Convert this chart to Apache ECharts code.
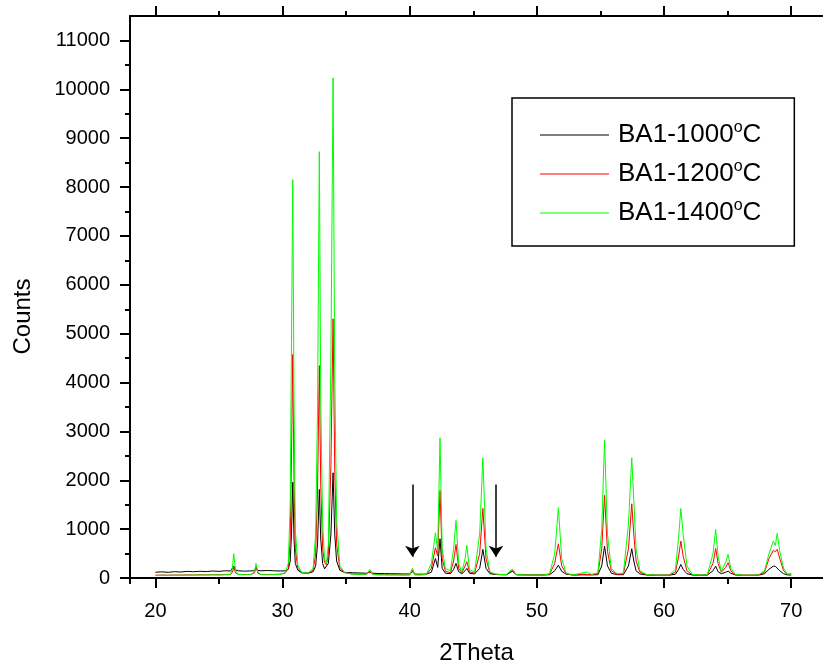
<!DOCTYPE html>
<html>
<head>
<meta charset="utf-8">
<script src="https://cdn.jsdelivr.net/npm/echarts@6/dist/echarts.min.js"></script>
<style>html,body{margin:0;padding:0;background:#fff;}#chart{width:823px;height:670px;}</style>
</head>
<body>
<div id="chart"></div>
<script>
const theta = [20.0,20.5,21.0,21.5,22.0,22.5,23.0,23.5,24.0,24.5,25.0,25.5,25.9,26.05,26.16,26.3,26.5,27.0,27.5,27.8,27.91,28.05,28.3,28.8,29.3,29.8,30.2,30.45,30.6,30.7,30.8,30.9,31.0,31.2,31.5,32.0,32.4,32.6,32.75,32.89,33.0,33.15,33.3,33.45,33.6,33.8,33.97,34.1,34.25,34.5,34.9,35.5,36.0,36.6,36.86,37.1,37.5,38.0,38.5,39.0,39.5,40.0,40.21,40.4,40.8,41.3,41.7,42.02,42.2,42.38,42.55,42.8,43.2,43.45,43.64,43.85,44.1,44.35,44.49,44.7,45.1,45.5,45.75,46.0,46.3,46.7,46.85,47.1,47.6,48.07,48.4,49.0,49.5,50.0,50.5,51.0,51.4,51.69,51.95,52.3,52.8,53.3,53.6,53.95,54.3,54.8,55.1,55.32,55.55,55.85,56.3,56.8,57.2,57.46,57.62,57.8,58.1,58.6,59.2,59.8,60.4,60.9,61.15,61.32,61.5,61.8,62.2,62.8,63.4,63.85,64.06,64.25,64.5,64.85,65.04,65.25,65.6,66.2,66.8,67.4,67.9,68.25,68.59,68.75,68.9,69.1,69.4,69.7,70.0];
const ba1000 = [120,128,118,132,125,138,130,140,134,145,138,150,146,175,245,170,150,142,148,150,212,155,150,156,150,145,150,180,350,900,1963,800,300,160,110,100,130,250,700,1814,800,300,190,200,300,900,2155,900,350,160,115,110,105,100,123,100,95,92,90,88,85,84,130,82,80,82,120,400,219,805,200,100,90,180,300,130,90,150,198,100,85,200,587,200,90,75,80,72,70,140,70,68,66,66,65,70,150,266,140,80,65,65,68,66,66,70,250,654,250,100,70,70,250,601,350,150,85,65,60,60,60,80,180,280,180,90,65,60,62,150,245,130,90,120,143,100,65,58,58,60,90,180,245,240,220,150,90,65,62];
const ba1200 = [60,62,60,64,62,66,64,68,66,70,68,72,74,120,212,110,78,72,76,110,245,100,74,72,75,80,100,200,800,2500,4575,2000,600,200,110,100,160,500,1800,4350,1900,600,320,270,500,2300,5305,2200,700,200,110,85,80,82,140,80,70,70,68,68,66,68,170,70,68,72,200,621,450,1793,400,140,110,350,689,200,110,250,335,130,100,500,1425,400,110,80,100,72,70,160,68,65,64,64,63,80,300,703,250,90,65,70,80,75,70,90,600,1691,550,150,80,85,600,1521,900,350,120,70,62,60,62,120,450,757,450,150,70,62,65,300,607,300,120,220,315,150,70,60,60,62,120,400,567,540,587,400,150,75,90];
const ba1400 = [55,58,56,60,58,60,62,62,64,66,64,68,70,200,499,160,75,70,72,130,300,120,70,68,70,75,110,300,1500,4800,8153,3600,1000,260,120,100,200,900,3500,8724,3700,1100,400,290,700,4500,10233,4200,1200,250,110,80,75,80,178,75,68,66,65,66,64,66,200,68,66,75,300,928,553,2871,600,200,150,600,1180,300,120,400,669,180,120,900,2462,600,130,85,115,75,72,185,70,66,65,64,64,90,500,1440,400,100,66,90,110,123,75,110,1000,2822,900,200,90,100,1100,2462,1600,600,150,75,62,60,62,180,850,1425,900,250,80,62,70,500,996,450,130,330,485,200,75,60,60,62,150,500,757,669,914,550,200,80,82];
const seriesNames = ['BA1-1000°C','BA1-1200°C','BA1-1400°C'];
const seriesColors = ['#000000','#ff0000','#00ff00'];
const xMajorTicks = [20,30,40,50,60,70];
const xMinorTicks = [25,35,45,55,65];
const yMajorTicks = [0,1000,2000,3000,4000,5000,6000,7000,8000,9000,10000,11000];
const yMinorTicks = [500,1500,2500,3500,4500,5500,6500,7500,8500,9500,10500];
const arrowX = [40.21, 46.78];
const arrowTop = 1916;
const arrowTip = 437;

const XMIN = 18, XMAX = 72.5, YMIN = -100, YMAX = 11500;
const FONT = 'Liberation Sans, Arial, sans-serif';

function zip(xs, ys){ return xs.map((x,i)=>[x, ys[i]]); }

const chart = echarts.init(document.getElementById('chart'), null, {renderer:'canvas'});

const axisLineStyle = {show:true, lineStyle:{color:'#000', width:2}};
function xAx(position, ticks, len, labels){
  return {
    type:'value', min:XMIN, max:XMAX, position:position,
    axisLine: axisLineStyle,
    axisTick:{show:true, inside:false, length:len, customValues:ticks, lineStyle:{color:'#000', width:2}},
    axisLabel: labels ? {show:true, customValues:ticks, fontSize:20, color:'#000', fontFamily:FONT, margin:18, formatter: v => String(v)} : {show:false},
    splitLine:{show:false}
  };
}
function yAx(ticks, len, labels){
  return {
    type:'value', min:YMIN, max:YMAX, position:'left',
    axisLine: axisLineStyle,
    axisTick:{show:true, inside:false, length:len, customValues:ticks, lineStyle:{color:'#000', width:2}},
    axisLabel: labels ? {show:true, customValues:ticks, fontSize:20, color:'#000', fontFamily:FONT, margin:20, formatter: v => String(v)} : {show:false},
    splitLine:{show:false}
  };
}

const xAxes = [xAx('bottom', xMajorTicks, 10, true), xAx('bottom', xMinorTicks, 6, false), xAx('top', xMajorTicks, 10, false), xAx('top', xMinorTicks, 5, false)];
xAxes[0].name = '2Theta';
xAxes[0].nameLocation = 'middle';
xAxes[0].nameGap = 58;
xAxes[0].nameTextStyle = {fontSize:24, color:'#000', fontFamily:FONT};
const yAxes = [yAx(yMajorTicks, 10, true), yAx(yMinorTicks, 5, false)];
yAxes[0].name = 'Counts';
yAxes[0].nameLocation = 'middle';
yAxes[0].nameGap = 95;
yAxes[0].nameTextStyle = {fontSize:24, color:'#000', fontFamily:FONT, padding:[0,34,0,0]};

const series = seriesNames.map((n,i)=>({
  name:n, type:'line', xAxisIndex:0, yAxisIndex:0,
  data: zip(theta, [ba1000, ba1200, ba1400][i]),
  symbol:'none', showSymbol:false, smooth:false,
  lineStyle:{color:seriesColors[i], width:1},
  itemStyle:{color:seriesColors[i]},
  animation:false
}));
series[0].markLine = {
  silent:true, animation:false,
  symbol:['none','arrow'], symbolSize:11,
  label:{show:false},
  lineStyle:{color:'#000', width:1.5, type:'solid'},
  data: arrowX.map(x=>[{coord:[x, arrowTop]},{coord:[x, arrowTip]}])
};

chart.setOption({
  animation:false,
  backgroundColor:'#fff',
  grid:{left:130, top:16, width:(XMAX-XMIN)*12.946, height:568, containLabel:false},
  xAxis:xAxes,
  yAxis:yAxes,
  legend:{
    show:true, orient:'vertical', left:512, top:98,
    data:seriesNames,
    icon:'rect',
    itemWidth:69, itemHeight:1, itemGap:9,
    padding:[22,33,18,28],
    borderColor:'#000', borderWidth:1.5,
    backgroundColor:'#fff',
    formatter: function(name){ return name.replace('°', '{sup|o}'); },
    textStyle:{fontSize:26, color:'#000', fontFamily:FONT, lineHeight:30, padding:[0,0,0,4],
      rich:{sup:{fontSize:16, fontFamily:FONT, color:'#000', verticalAlign:'top', lineHeight:16, padding:[0,0,12,0]}}}
  },
  series:series
});
</script>
</body>
</html>
